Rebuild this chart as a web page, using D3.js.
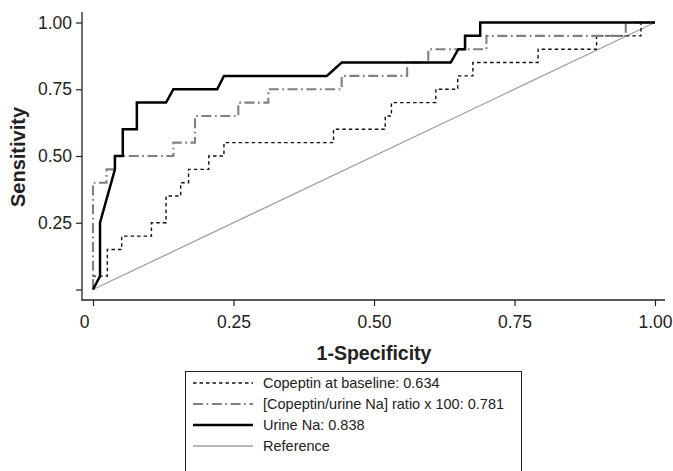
<!DOCTYPE html>
<html>
<head>
<meta charset="utf-8">
<script src="https://cdn.jsdelivr.net/npm/d3@7"></script>
<style>
  html, body { margin: 0; padding: 0; background: #fff; }
  svg { display: block; font-family: "Liberation Sans", Arial, Helvetica, sans-serif; }
</style>
</head>
<body>
<svg id="chart" width="673" height="471"></svg>
<script>
// ---- data ----
const tickValues = [0, 0.25, 0.5, 0.75, 1];
const yTickLabels = ["", "0.25", "0.50", "0.75", "1.00"];
const xTickLabels = ["0", "0.25", "0.50", "0.75", "1.00"];

const seriesNames = [
  "Copeptin at baseline: 0.634",
  "[Copeptin/urine Na] ratio x 100: 0.781",
  "Urine Na: 0.838",
  "Reference"
];

const copeptinX = [0, 0, 0.0255, 0.0255, 0.051, 0.051, 0.104, 0.104, 0.13, 0.13, 0.156, 0.156, 0.17, 0.17, 0.206, 0.206, 0.233, 0.233, 0.428, 0.428, 0.52, 0.52, 0.531, 0.531, 0.61, 0.61, 0.649, 0.649, 0.676, 0.676, 0.792, 0.792, 0.896, 0.896, 0.975, 0.975, 1];
const copeptinY = [0, 0.05, 0.05, 0.15, 0.15, 0.2, 0.2, 0.25, 0.25, 0.35, 0.35, 0.4, 0.4, 0.45, 0.45, 0.5, 0.5, 0.55, 0.55, 0.6, 0.6, 0.65, 0.65, 0.7, 0.7, 0.75, 0.75, 0.8, 0.8, 0.85, 0.85, 0.9, 0.9, 0.95, 0.95, 1, 1];

const ratioX = [0, 0, 0.024, 0.024, 0.039, 0.039, 0.143, 0.143, 0.1815, 0.1815, 0.2586, 0.2586, 0.312, 0.312, 0.4425, 0.4425, 0.559, 0.559, 0.5966, 0.5966, 0.7, 0.7, 0.948, 0.948, 1];
const ratioY = [0, 0.4, 0.4, 0.45, 0.45, 0.5, 0.5, 0.55, 0.55, 0.65, 0.65, 0.7, 0.7, 0.75, 0.75, 0.8, 0.8, 0.85, 0.85, 0.9, 0.9, 0.95, 0.95, 1, 1];

const urineX = [0, 0.0125, 0.0125, 0.039, 0.039, 0.053, 0.053, 0.078, 0.078, 0.13, 0.143, 0.221, 0.233, 0.416, 0.4425, 0.6365, 0.65, 0.662, 0.662, 0.689, 0.689, 1];
const urineY = [0, 0.05, 0.25, 0.45, 0.5, 0.5, 0.6, 0.6, 0.7, 0.7, 0.75, 0.75, 0.8, 0.8, 0.85, 0.85, 0.9, 0.9, 0.95, 0.95, 1, 1];

const referenceX = [0, 1];
const referenceY = [0, 1];

// ---- drawing ----
const svg = d3.select("#chart");
const x = d3.scaleLinear().domain([0, 1]).range([93, 655]);
const y = d3.scaleLinear().domain([0, 1]).range([289.5, 22.5]);

const styles = [
  { stroke: "#111", width: 1.4, dash: "3.5,3" },
  { stroke: "#808080", width: 2.1, dash: "10,3.5,1.8,3.5" },
  { stroke: "#000", width: 2.5, dash: null },
  { stroke: "#a0a0a0", width: 1.3, dash: null }
];
const seriesData = [
  copeptinX.map((v, i) => [v, copeptinY[i]]),
  ratioX.map((v, i) => [v, ratioY[i]]),
  urineX.map((v, i) => [v, urineY[i]]),
  referenceX.map((v, i) => [v, referenceY[i]])
];

const line = d3.line().x(d => x(d[0])).y(d => y(d[1]));

// axes
const axisColor = "#222";
const yAxis = svg.append("g").attr("transform", "translate(82,0)")
  .call(d3.axisLeft(y).tickValues(tickValues).tickFormat((d, i) => yTickLabels[i]).tickSize(6).tickPadding(4));
yAxis.select(".domain").remove();
svg.append("line").attr("x1", 82).attr("x2", 82).attr("y1", 12).attr("y2", 300.5)
  .attr("stroke", axisColor).attr("stroke-width", 1.3);

const xAxis = svg.append("g").attr("transform", "translate(0,300)")
  .call(d3.axisBottom(x).tickValues(tickValues).tickFormat((d, i) => xTickLabels[i]).tickSize(6).tickPadding(10));
xAxis.select(".domain").remove();
svg.append("line").attr("x1", 81.5).attr("x2", 665).attr("y1", 300).attr("y2", 300)
  .attr("stroke", axisColor).attr("stroke-width", 1.3);

[yAxis, xAxis].forEach(g => {
  g.selectAll(".tick line").attr("stroke", axisColor).attr("stroke-width", 1.2);
  g.selectAll(".tick text").attr("fill", "#222").style("font-size", "17.5px")
    .style("font-family", "'Liberation Sans', Arial, sans-serif");
});
xAxis.selectAll(".tick text").filter((d, i) => i === 0).attr("dx", -9);

// series lines (reference first, then curves)
const order = [3, 0, 1, 2];
order.forEach(k => {
  svg.append("path").datum(seriesData[k])
    .attr("d", line)
    .attr("fill", "none")
    .attr("stroke", styles[k].stroke)
    .attr("stroke-width", styles[k].width)
    .attr("stroke-dasharray", styles[k].dash)
    .attr("stroke-linejoin", "miter");
});

// axis titles
svg.append("text").attr("x", 374).attr("y", 360).attr("text-anchor", "middle")
  .style("font-size", "19.5px").style("font-weight", "bold").attr("fill", "#222").text("1-Specificity");
svg.append("text").attr("transform", "translate(25,157) rotate(-90)").attr("text-anchor", "middle")
  .style("font-size", "20px").style("font-weight", "bold").attr("fill", "#222").text("Sensitivity");

// legend
const lg = svg.append("g");
lg.append("rect").attr("x", 185.5).attr("y", 371.5).attr("width", 336).attr("height", 110)
  .attr("fill", "#fff").attr("stroke", "#222").attr("stroke-width", 1);
seriesNames.forEach((name, i) => {
  const yy = 383 + i * 21;
  lg.append("line").attr("x1", 193).attr("x2", 253).attr("y1", yy).attr("y2", yy)
    .attr("stroke", styles[i].stroke).attr("stroke-width", styles[i].width)
    .attr("stroke-dasharray", styles[i].dash);
  lg.append("text").attr("x", 263).attr("y", yy).attr("dy", "0.35em")
    .style("font-size", "14.5px").attr("fill", "#222").text(name);
});
</script>
</body>
</html>
